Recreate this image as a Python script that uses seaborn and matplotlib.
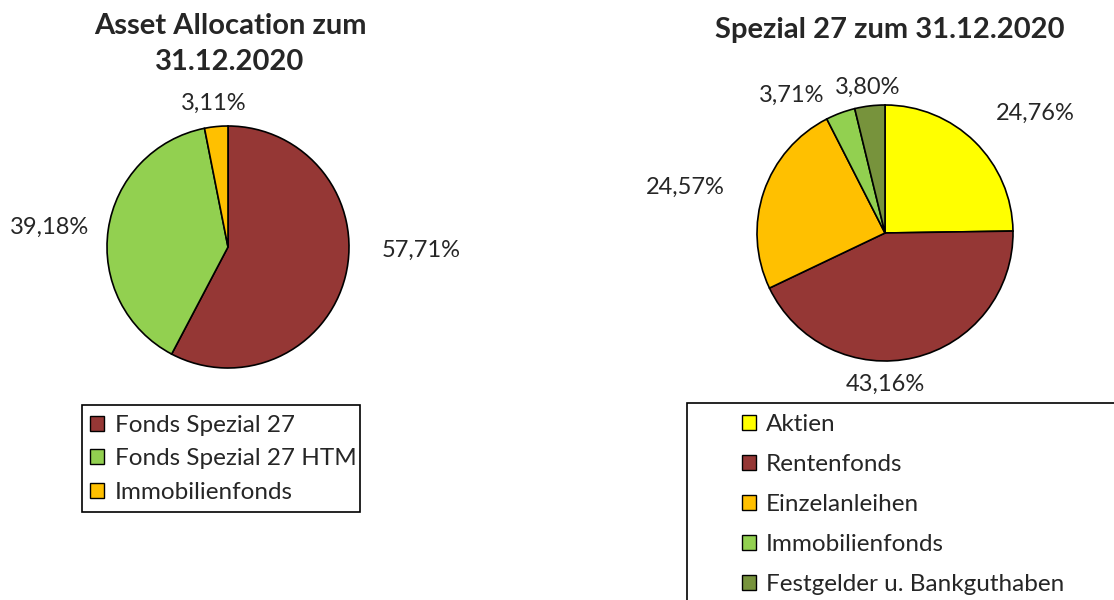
import matplotlib
matplotlib.use("Agg")
import matplotlib.pyplot as plt
import numpy as np
import seaborn as sns
from matplotlib.patches import Patch, Rectangle

# data
left_title = "Asset Allocation zum\n31.12.2020"
left_labels = ["Fonds Spezial 27", "Fonds Spezial 27 HTM", "Immobilienfonds"]
left_values = [57.71, 39.18, 3.11]
left_colors = ["#953735", "#92d050", "#ffc000"]

right_title = "Spezial 27 zum 31.12.2020"
right_labels = ["Aktien", "Rentenfonds", "Einzelanleihen", "Immobilienfonds",
                "Festgelder u. Bankguthaben"]
right_values = [24.76, 43.16, 24.57, 3.71, 3.80]
right_colors = ["#ffff00", "#953735", "#ffc000", "#92d050", "#77933c"]

# label placement (radius factor, angle nudge in degrees)
left_label_pos = [(1.60, 13), (1.48, 2), (1.19, 0)]
right_label_pos = [(1.50, -7), (1.18, -13), (1.60, 6), (1.30, 13.6), (1.15, 0)]

sns.set_style("white")
plt.rcParams["font.family"] = ["Lato", "DejaVu Sans"]

W, H = 1114, 600
fig = plt.figure(figsize=(W / 100, H / 100), dpi=100)


def px_axes(cx, cy, r):
    return fig.add_axes([(cx - r) / W, 1 - (cy + r) / H, 2 * r / W, 2 * r / H])


def draw_pie(ax, values, colors, label_pos):
    wedges, _ = ax.pie(values, colors=colors, startangle=90, counterclock=False,
                       radius=1, wedgeprops=dict(edgecolor="black", linewidth=1.2))
    ax.set_xlim(-1, 1)
    ax.set_ylim(-1, 1)
    ax.set_aspect("equal")
    ax.axis("off")
    for w, v, (d, nudge) in zip(wedges, values, label_pos):
        ang = np.deg2rad((w.theta1 + w.theta2) / 2 + nudge)
        ax.text(d * np.cos(ang), d * np.sin(ang), f"{v:.2f}%".replace(".", ","),
                ha="center", va="center", fontsize=17, clip_on=False)


ax1 = px_axes(228, 247, 121)
draw_pie(ax1, left_values, left_colors, left_label_pos)
fig.text(230 / W, 1 - 44 / H, left_title, ha="center", va="center",
         fontsize=21, fontweight="bold", linespacing=1.45)

ax2 = px_axes(885, 233, 128)
draw_pie(ax2, right_values, right_colors, right_label_pos)
fig.text(890 / W, 1 - 30 / H, right_title, ha="center", va="center",
         fontsize=21, fontweight="bold")

# legend boxes
fig.patches.append(Rectangle((82 / W, 1 - 512 / H), 278 / W, 107 / H,
                             transform=fig.transFigure, fill=False,
                             edgecolor="black", linewidth=1.2))
fig.patches.append(Rectangle((687 / W, -0.05), 0.5, 1 - 403 / H + 0.05,
                             transform=fig.transFigure, fill=False,
                             edgecolor="black", linewidth=1.2))

h1 = [Patch(facecolor=c, edgecolor="black", linewidth=1) for c in left_colors]
fig.legend(h1, left_labels, loc="upper left", bbox_to_anchor=(90 / W, 1 - 415 / H),
           frameon=False, fontsize=17.5, handlelength=0.58, handleheight=0.58,
           handletextpad=0.45, labelspacing=0.51, borderpad=0, borderaxespad=0)

h2 = [Patch(facecolor=c, edgecolor="black", linewidth=1) for c in right_colors]
fig.legend(h2, right_labels, loc="upper left", bbox_to_anchor=(742 / W, 1 - 414 / H),
           frameon=False, fontsize=17.5, handlelength=0.58, handleheight=0.58,
           handletextpad=0.4, labelspacing=0.78, borderpad=0, borderaxespad=0)

fig.savefig("out.png", dpi=100)
